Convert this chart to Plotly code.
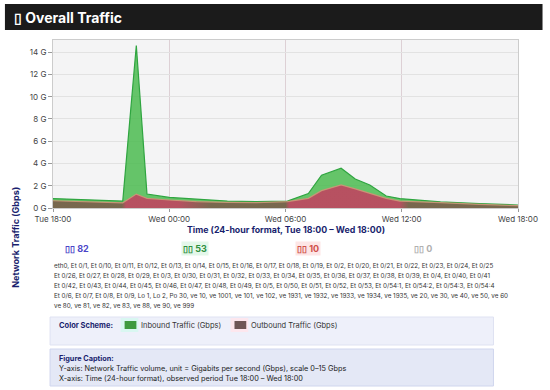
import plotly.graph_objects as go
import pandas as pd

# ---------------- data ----------------
start = pd.Timestamp("2024-01-02 18:00")  # Tuesday
hours = [0.0, 1.0, 2.0, 3.0, 3.6, 4.3, 4.85, 6.0, 7.4, 9.0, 10.5, 12.1,
         13.18, 13.86, 14.87, 15.6, 16.35, 17.2, 17.9, 18.75, 20.0, 22.0, 24.0]
inbound = [0.85, 0.80, 0.74, 0.68, 0.62, 14.6, 1.25, 0.95, 0.78, 0.62, 0.58, 0.62,
           1.30, 2.95, 3.57, 2.60, 2.07, 1.08, 0.85, 0.72, 0.55, 0.40, 0.27]
outbound = [0.65, 0.60, 0.55, 0.50, 0.47, 1.25, 0.87, 0.72, 0.58, 0.50, 0.48, 0.58,
            0.87, 1.56, 2.07, 1.72, 1.35, 0.87, 0.62, 0.58, 0.48, 0.33, 0.21]
times = [start + pd.Timedelta(hours=h) for h in hours]

tick_vals = [start + pd.Timedelta(hours=h) for h in [0, 6, 12, 18, 24]]
tick_text = ["Tue 18:00", "Wed 00:00", "Wed 06:00", "Wed 12:00", "Wed 18:00"]

stat_values = ["82", "53", "10", "0"]
interfaces = [
    "eth0, Et 0/1, Et 0/10, Et 0/11, Et 0/12, Et 0/13, Et 0/14, Et 0/15, Et 0/16, Et 0/17, Et 0/18, Et 0/19, Et 0/2, Et 0/20, Et 0/21, Et 0/22, Et 0/23, Et 0/24, Et 0/25",
    "Et 0/26, Et 0/27, Et 0/28, Et 0/29, Et 0/3, Et 0/30, Et 0/31, Et 0/32, Et 0/33, Et 0/34, Et 0/35, Et 0/36, Et 0/37, Et 0/38, Et 0/39, Et 0/4, Et 0/40, Et 0/41",
    "Et 0/42, Et 0/43, Et 0/44, Et 0/45, Et 0/46, Et 0/47, Et 0/48, Et 0/49, Et 0/5, Et 0/50, Et 0/51, Et 0/52, Et 0/53, Et 0/54:1, Et 0/54:2, Et 0/54:3, Et 0/54:4",
    "Et 0/6, Et 0/7, Et 0/8, Et 0/9, Lo 1, Lo 2, Po 30, ve 10, ve 1001, ve 101, ve 102, ve 1931, ve 1932, ve 1933, ve 1934, ve 1935, ve 20, ve 30, ve 40, ve 50, ve 60",
    "ve 80, ve 81, ve 82, ve 83, ve 88, ve 90, ve 999",
]

# ---------------- layout helpers (pixel -> paper) ----------------
W, H = 550, 390
L, R, T, B = 53, 23, 40, 182
PW, PH = W - L - R, H - T - B


def px(x):
    return (x - L) / PW


def py(y):
    return (H - B - y) / PH


FONT = "Inter, Lato, sans-serif"
NAVY = "#1a1f6e"
BROWN = "rgba(122,96,76,0.92)"
CRIMSON = "rgba(192,68,96,0.9)"

fig = go.Figure()
fig.add_trace(go.Scatter(
    x=times, y=inbound, mode="lines", fill="tozeroy",
    line=dict(color="#2fa540", width=1.2),
    fillcolor="rgba(70,185,75,0.82)", name="Inbound Traffic (Gbps)",
))
fig.add_trace(go.Scatter(
    x=times, y=outbound, mode="lines", fill="tozeroy",
    line=dict(color="rgba(205,150,120,0.9)", width=1.2),
    fillgradient=dict(type="horizontal", colorscale=[
        [0.0, BROWN], [0.148, BROWN], [0.157, CRIMSON], [0.27, CRIMSON],
        [0.34, BROWN], [0.50, BROWN], [0.508, CRIMSON], [0.745, CRIMSON],
        [0.765, BROWN], [1.0, BROWN]]),
    name="Outbound Traffic (Gbps)",
))

shapes = []
annotations = []


def note(x, y, text, size=7.5, color="#333333", xanchor="left", bg=None, angle=0):
    d = dict(xref="paper", yref="paper", x=px(x), y=py(y), xanchor=xanchor, yanchor="middle",
             text=text, showarrow=False, textangle=angle,
             font=dict(family=FONT, size=size, color=color))
    if bg:
        d["bgcolor"] = bg
    annotations.append(d)


def box(x0, y0, x1, y1, fill, line=None):
    shapes.append(dict(type="rect", xref="paper", yref="paper", x0=px(x0), x1=px(x1),
                       y0=py(y1), y1=py(y0), fillcolor=fill, layer="above",
                       line=dict(color=line, width=1) if line else dict(width=0)))


# header bar
box(4, 4, 552, 30, "#1b1b1b")
note(11, 17, "<b>▯ Overall Traffic</b>", size=14, color="white")

# axis titles
note(14, 237, "<b>Network Traffic (Gbps)</b>", size=9, color=NAVY, xanchor="center", angle=-90)
note(290, 229, "<b>Time (24-hour format, Tue 18:00 – Wed 18:00)</b>", size=8.8, color=NAVY,
     xanchor="center")

# stats row
stat_x = [77, 198, 313, 430]
stat_col = ["#4b45c8", "#2f8f3f", "#d0504a", "#b0b0b0"]
stat_bg = [None, "#e4f7ea", "#fde6e6", None]
for xv, v, c, bg in zip(stat_x, stat_values, stat_col, stat_bg):
    note(xv, 248, "<b>▯▯ " + v + "</b>", size=9, color=c, xanchor="center", bg=bg)

# interface list
for i, line in enumerate(interfaces):
    note(52, 266 + 10 * i, line, size=6.3, color="#333333")

# color scheme box
box(50, 317, 502, 345, "#eef0fa", "#dfe2f2")
note(57, 325, "<b>Color Scheme:</b>", size=7.5, color=NAVY)
box(122, 318, 140, 332, "#d9f7f1")
box(126, 321, 138, 329, "#3e9a3e")
note(141, 325, "Inbound Traffic (Gbps)")
box(234, 318, 252, 332, "#fde7ee")
box(238, 321, 250, 329, "#6e5656")
note(253, 325, "Outbound Traffic (Gbps)")

# caption box
box(50, 349, 502, 386, "#e4e8f6", "#d0d6ee")
note(57, 358, "<b>Figure Caption:</b>", size=7.3, color=NAVY)
note(57, 368, "Y-axis: Network Traffic volume, unit = Gigabits per second (Gbps), scale 0–15 Gbps",
     size=7.3, color="#222222")
note(57, 378, "X-axis: Time (24-hour format), observed period Tue 18:00 – Wed 18:00",
     size=7.3, color="#222222")

fig.update_layout(
    width=W, height=H, margin=dict(l=L, r=R, t=T, b=B),
    paper_bgcolor="white", plot_bgcolor="#f4f4f5",
    showlegend=False, shapes=shapes, annotations=annotations,
    font=dict(family=FONT, size=8, color="#444444"),
    xaxis=dict(type="date", range=[tick_vals[0], tick_vals[-1]], tickvals=tick_vals,
               ticktext=tick_text, showgrid=True, gridcolor="#ddd0d5", gridwidth=1,
               ticks="outside", ticklen=3, tickcolor="#999", showline=True, linecolor="#cccccc",
               mirror=True, tickfont=dict(size=8, color="#444444"), zeroline=False),
    yaxis=dict(range=[0, 15.1], dtick=2, ticksuffix=" G", showgrid=True, gridcolor="#e2e2e2",
               gridwidth=1, ticks="outside", ticklen=4, tickcolor="#999", showline=True,
               linecolor="#cccccc", mirror=True, tickfont=dict(size=8, color="#444444"),
               zeroline=False),
)

fig.write_html("out.html", config={"displayModeBar": False},
               post_script="document.body.style.margin='0px';")
